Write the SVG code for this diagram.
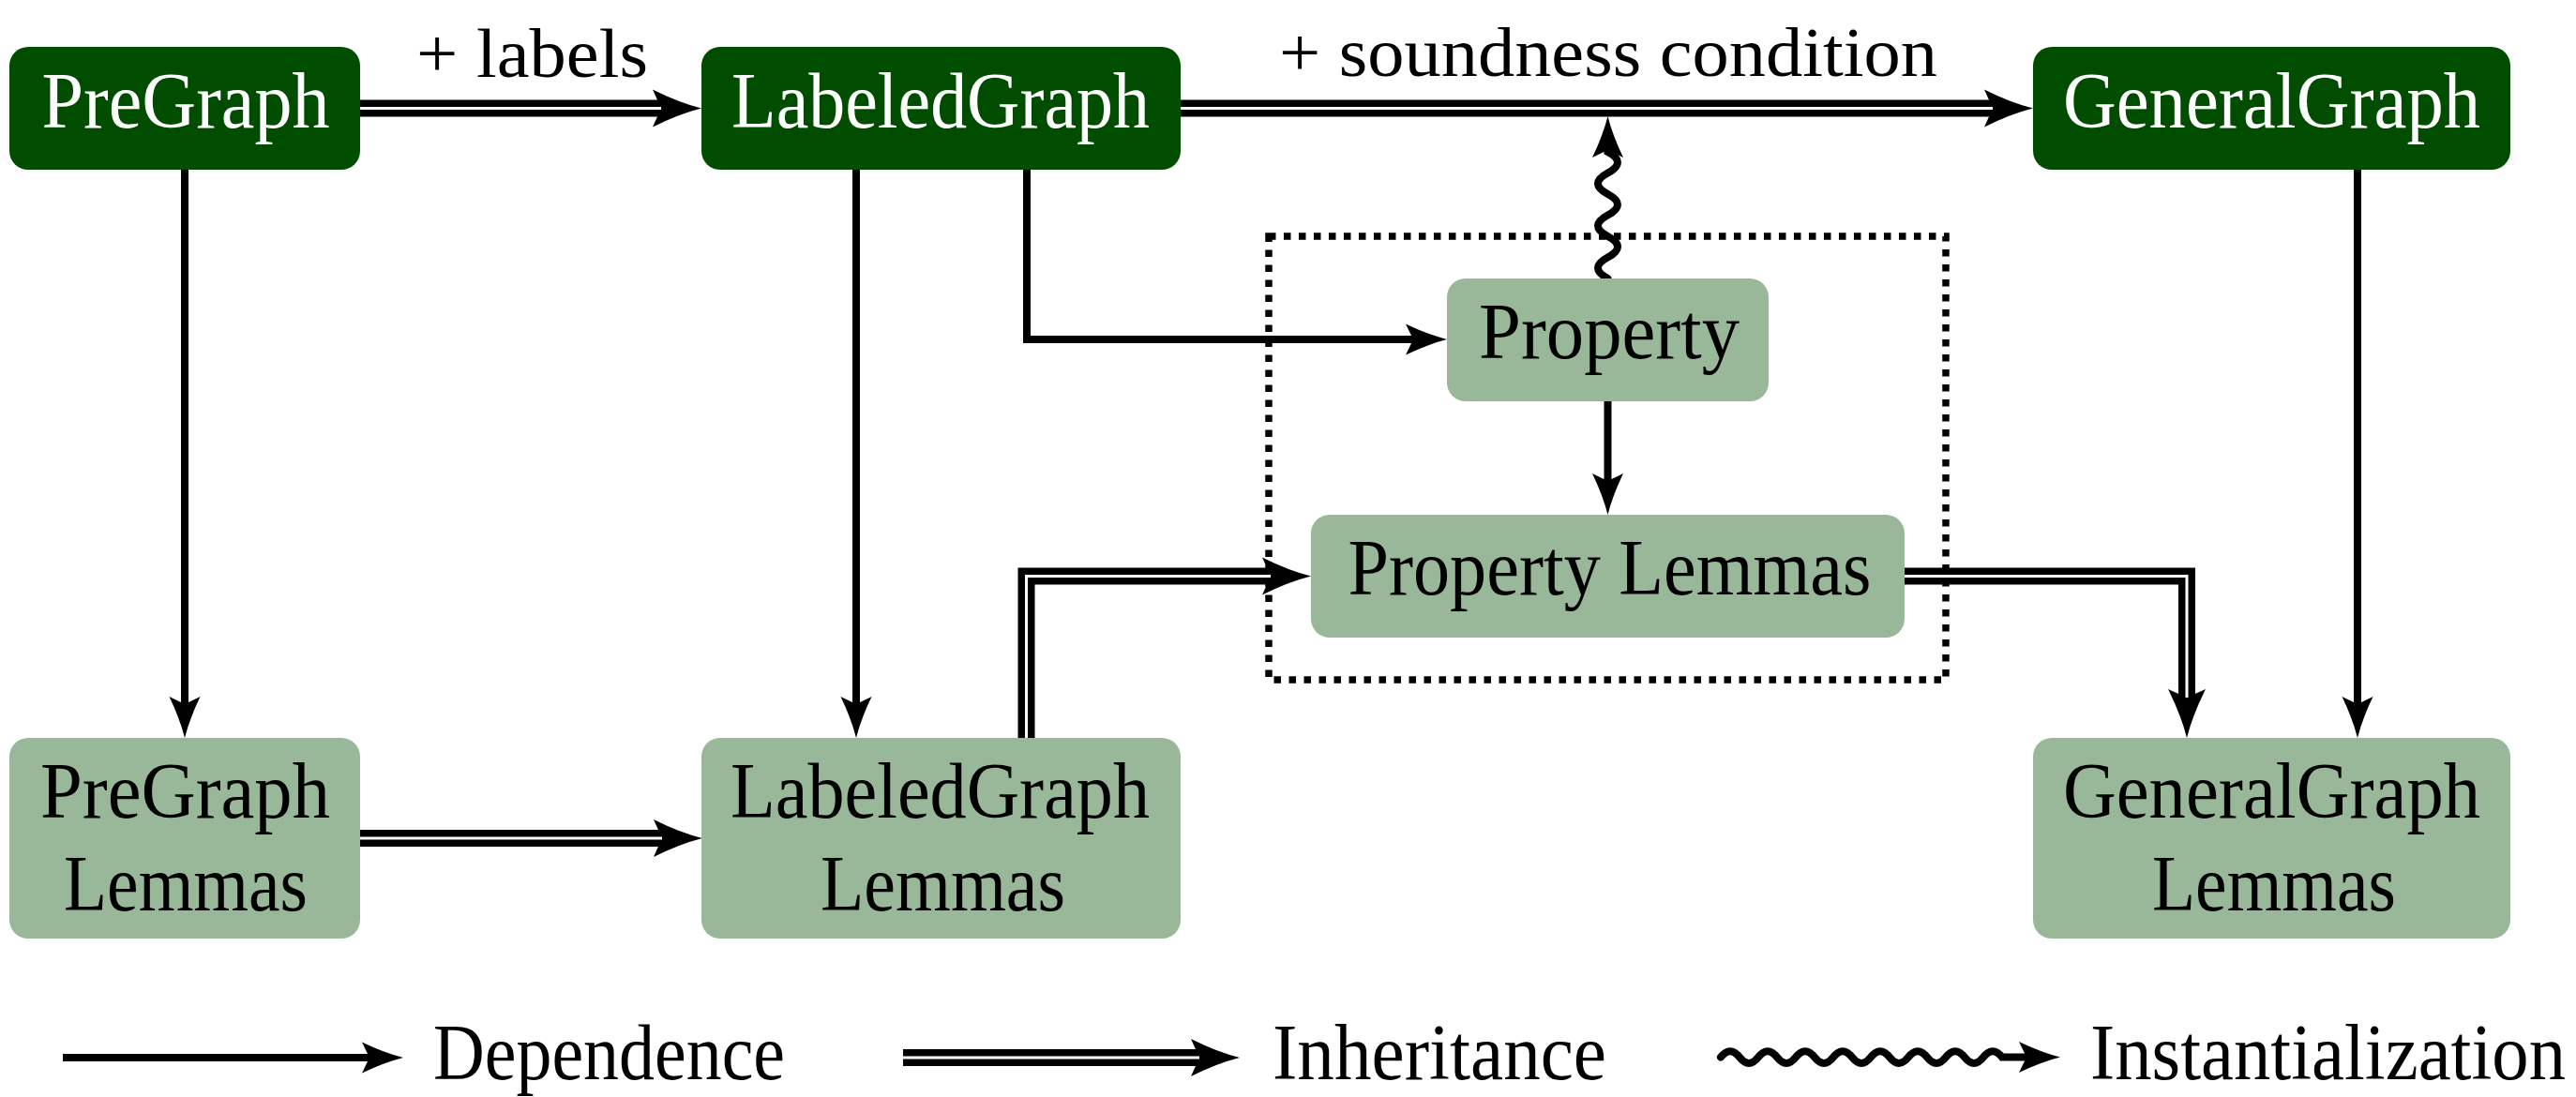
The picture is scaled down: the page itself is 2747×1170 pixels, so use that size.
<svg xmlns="http://www.w3.org/2000/svg" width="2747" height="1170" viewBox="0 0 2747 1170">
<style>
text{font-family:"Liberation Serif","DejaVu Serif",serif;font-size:84px;text-anchor:middle}
.lbl{font-size:74px;text-anchor:start}
.leg{text-anchor:start}
.dk{fill:#004d00}
.lt{fill:#99b899}
.tw{fill:#ffffff}
.tb{fill:#000000}
.s{fill:none;stroke:#000;stroke-width:8}
.dbk{fill:none;stroke:#000;stroke-width:18;stroke-linejoin:miter}
.dwh{fill:none;stroke:#fff;stroke-width:3;stroke-linejoin:miter}
.wv{fill:none;stroke:#000;stroke-width:8;stroke-linecap:round}
.dot{fill:none;stroke:#000;stroke-width:7.5;stroke-dasharray:7.5 8.5}
</style>
<defs>
<marker id="hs" markerUnits="userSpaceOnUse" viewBox="-1 -20 48 40" markerWidth="48" markerHeight="40" refX="8" refY="0" orient="auto">
<path d="M44,0 Q24,-5 0,-16.5 L8,0 L0,16.5 Q24,5 44,0 Z" fill="#000"/>
</marker>
<marker id="hd" markerUnits="userSpaceOnUse" viewBox="-1 -23 56 46" markerWidth="56" markerHeight="46" refX="9" refY="0" orient="auto">
<path d="M52,0 Q28,-6 0,-20 L9,0 L0,20 Q28,6 52,0 Z" fill="#000"/>
</marker>
</defs>
<rect width="2747" height="1170" fill="#fff"/>
<rect class="dot" x="1353" y="252" width="722" height="473"/>
<g id="connectors">
<path class="dbk" d="M384,115.5 H705" marker-end="url(#hd)"/>
<path class="dwh" d="M384,115.5 H705"/>
<path class="dbk" d="M1259,115.5 H2125" marker-end="url(#hd)"/>
<path class="dwh" d="M1259,115.5 H2125"/>
<path class="s" d="M197,181 V751" marker-end="url(#hs)"/>
<path class="s" d="M913,181 V751" marker-end="url(#hs)"/>
<path class="s" d="M1095,181 V362 H1507" marker-end="url(#hs)"/>
<path class="s" d="M1714.5,428 V513" marker-end="url(#hs)"/>
<path class="s" d="M2514,181 V751" marker-end="url(#hs)"/>
<path class="dbk" d="M1094.5,787 V614.5 H1355" marker-end="url(#hd)"/>
<path class="dwh" d="M1094.5,787 V614.5 H1355"/>
<path class="dbk" d="M2029,614.5 H2332 V744" marker-end="url(#hd)"/>
<path class="dwh" d="M2029,614.5 H2332 V744"/>
<path class="dbk" d="M384,894 H706" marker-end="url(#hd)"/>
<path class="dwh" d="M384,894 H706"/>
<path class="wv" d="M1714.5,297 c-14,-7.5 -14,-15 0,-22.5 c14,-7.5 14,-15 0,-22.5 c-14,-7.5 -14,-15 0,-22.5 c14,-7.5 14,-15 0,-22.5 c-14,-7.5 -14,-15 0,-22.5 c14,-7.5 14,-15 0,-22.5 L1714.5,160" marker-end="url(#hs)"/>
</g>
<g id="edge-labels">
<text class="lbl tb" x="444" y="82" textLength="247" lengthAdjust="spacingAndGlyphs">+ labels</text>
<text class="lbl tb" x="1364" y="81" textLength="702" lengthAdjust="spacingAndGlyphs">+ soundness condition</text>
</g>
<g id="PreGraph"><rect class="dk" x="10" y="50" width="374" height="131" rx="20"/><text class="tw" x="198" y="136" textLength="307" lengthAdjust="spacingAndGlyphs">PreGraph</text></g>
<g id="LabeledGraph"><rect class="dk" x="748" y="50" width="511" height="131" rx="20"/><text class="tw" x="1003" y="136" textLength="446" lengthAdjust="spacingAndGlyphs">LabeledGraph</text></g>
<g id="GeneralGraph"><rect class="dk" x="2168" y="50" width="509" height="131" rx="20"/><text class="tw" x="2422.5" y="136" textLength="445" lengthAdjust="spacingAndGlyphs">GeneralGraph</text></g>
<g id="Property"><rect class="lt" x="1543" y="297" width="343" height="131" rx="20"/><text class="tb" x="1716" y="382" textLength="278" lengthAdjust="spacingAndGlyphs">Property</text></g>
<g id="PropertyLemmas"><rect class="lt" x="1398" y="549" width="633" height="131" rx="20"/><text class="tb" x="1716.5" y="634" textLength="558" lengthAdjust="spacingAndGlyphs">Property Lemmas</text></g>
<g id="PreGraphLemmas"><rect class="lt" x="10" y="787" width="374" height="214" rx="20"/><text class="tb" x="197.5" y="872" textLength="309" lengthAdjust="spacingAndGlyphs">PreGraph</text><text class="tb" x="198" y="971" textLength="260" lengthAdjust="spacingAndGlyphs">Lemmas</text></g>
<g id="LabeledGraphLemmas"><rect class="lt" x="748" y="787" width="511" height="214" rx="20"/><text class="tb" x="1002.5" y="872" textLength="447" lengthAdjust="spacingAndGlyphs">LabeledGraph</text><text class="tb" x="1005.5" y="971" textLength="261" lengthAdjust="spacingAndGlyphs">Lemmas</text></g>
<g id="GeneralGraphLemmas"><rect class="lt" x="2168" y="787" width="509" height="214" rx="20"/><text class="tb" x="2422.5" y="872" textLength="445" lengthAdjust="spacingAndGlyphs">GeneralGraph</text><text class="tb" x="2425" y="971" textLength="260" lengthAdjust="spacingAndGlyphs">Lemmas</text></g>
<g id="legend">
<path class="s" d="M67,1128 H394" marker-end="url(#hs)"/>
<text class="leg tb" x="462" y="1151" textLength="375" lengthAdjust="spacingAndGlyphs">Dependence</text>
<path class="dbk" d="M963,1128 H1279" marker-end="url(#hd)"/>
<path class="dwh" d="M963,1128 H1279"/>
<text class="leg tb" x="1357" y="1151" textLength="356" lengthAdjust="spacingAndGlyphs">Inheritance</text>
<path class="wv" d="M1835,1127.5 c6.7,-8.5 13.3,-8.5 20,0 c6.7,8.5 13.3,8.5 20,0 c6.7,-8.5 13.3,-8.5 20,0 c6.7,8.5 13.3,8.5 20,0 c6.7,-8.5 13.3,-8.5 20,0 c6.7,8.5 13.3,8.5 20,0 c6.7,-8.5 13.3,-8.5 20,0 c6.7,8.5 13.3,8.5 20,0 c6.7,-8.5 13.3,-8.5 20,0 c6.7,8.5 13.3,8.5 20,0 c6.7,-8.5 13.3,-8.5 20,0 c6.7,8.5 13.3,8.5 20,0 c6.7,-8.5 13.3,-8.5 20,0 c6.7,8.5 13.3,8.5 20,0 c6.7,-8.5 13.3,-8.5 20,0 L2161,1127.5" marker-end="url(#hs)"/>
<text class="leg tb" x="2229" y="1151" textLength="507" lengthAdjust="spacingAndGlyphs">Instantialization</text>
</g>
</svg>
